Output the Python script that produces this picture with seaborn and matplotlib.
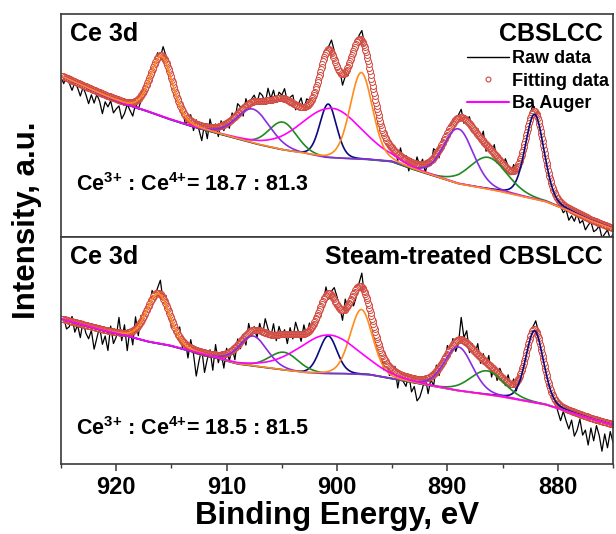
import numpy as np
import matplotlib
matplotlib.use("Agg")
import matplotlib.pyplot as plt
from matplotlib.lines import Line2D
from matplotlib.ticker import MultipleLocator
import seaborn as sns

# ---------------- data (intensities in arbitrary units) ----------------
raw_start = 875.0          # eV, first raw point
raw_step = 0.25            # eV spacing of the raw spectrum
fit_step = 0.06            # eV spacing of the fitted envelope points

# Shirley-type background knots
bg_energy = [875, 877, 879, 881, 883, 885, 887, 889, 891, 893, 895, 897, 899,
             901, 903, 905, 907, 909, 911, 913, 915, 917, 919, 921, 923, 925]
bg_top = [8, 16, 26, 35, 40, 45, 49, 53, 60, 67, 75, 77, 78,
          79, 83, 87, 92, 98, 104, 110, 117, 125, 132, 141, 151, 161]
bg_bottom = [39, 45, 52, 59, 63, 67, 70, 73, 77, 81, 85, 89, 90,
             90, 91, 94, 97, 100, 106, 112, 118, 122, 128, 133, 139, 145]

# fitted components: navy (v,u), green (v',u'), purple (v'',u''), orange (v''',u'''), Ba Auger
component_names = ["v/u", "v'/u'", "v''/u''", "v'''/u'''", "Ba Auger"]
top_centers = [[882.1, 900.8], [886.3, 904.9], [889.0, 907.6], [897.8, 915.9], [900.5]]
top_heights = [[85, 54], [32, 28], [55, 34], [87, 60], [50]]
top_fwhm = [[2.0, 1.8], [4.0, 3.0], [3.2, 3.6], [2.4, 2.4], [6.5]]

bottom_centers = [[882.1, 900.8], [886.4, 904.8], [889.0, 907.6], [897.8, 916.2], [900.8]]
bottom_heights = [[72, 38], [24, 18], [44, 30], [65, 50], [39]]
bottom_fwhm = [[1.9, 1.9], [3.6, 3.2], [3.0, 3.0], [2.4, 2.5], [6.5]]

# raw spectrum = fit + these residuals, 875 -> 925 eV
top_raw_resid = [
    -6, -12, -4, -9, -14, -3, -8, -11, -2, -7, -13, -5, -9, -1, -10, -6, -12, -3, -8, -4, -2,
    3, -4, 5, 1, -3, 6, 2, -2, 7, 4,
    -3, 2, -5, 4, -2, 6, -4, 3, 8, -3,
    5, -6, 9, -2, 4, -7, 10, -3, 6, 1,
    -4, 7, 2, -5, 8, 3, -6, 4, -2, 5,
    -3, 6, -8, 3, 9, -5, 2, -9, 5, -2,
    7, -6, 3, -10, 4, -3, 8, -7, 2, -4,
    5, -2, 6, -5, 3, 8, -4, 2, 9, 3,
    10, 4, -3, 6, -6, -9, -4, -11, 2, -3,
    8, 12, 3, -4, 6, -2, -9, 4, -6, 3,
    7, -3, 9, 2, -5, 8, 4, -2, 10, 3,
    6, -4, 9, 1, 12, -3, 5, 8, -2, 6,
    3, -5, 7, -8, 4, 10, -3, 6, -7, 2,
    -6, 5, -10, 3, -4, 8, -12, 2, -15, -5,
    4, -8, 6, -3, -9, 2, -6, 5, -2, 7,
    3, 6, 10, -2, 5, 2, -4, 6, -3, 2,
    -5, -10, -3, -14, -8, -2, -12, -18, -6, -10,
    -15, -4, -11, -7, -20, -9, -3, -13, -6, -16,
    -8, -2, -12, -5, -1, -10, -4, 3, -7, -2]
bottom_raw_resid = [
    -18, -8, -25, -12, -30, -15, -6, -22, -10, -28, -14, -20, -5, -17, -24, -9, -19, -12, -4, -15, -8,
    -3, 4, -6, 2, 7, -2, 5, 9, 3, 6,
    -4, 6, -7, 3, -9, 5, -3, 8, -5, 2,
    7, -8, 4, -10, 9, -3, 6, -6, 11, -2,
    5, -7, 12, 3, 22, -4, -10, 6, -3, 8,
    -5, 3, -8, 6, -12, -3, -16, 2, -9, -18,
    -22, -8, -14, 3, -10, -6, 2, -15, 5, -4,
    -9, 4, -12, -3, 6, -7, 9, -2, 5, -6,
    14, 3, -8, -12, 6, -4, 10, -10, 2, 8,
    12, 4, -6, 8, -3, 6, -9, 3, -5, 7,
    -4, 9, -7, 3, 12, -5, 6, -10, 4, -2,
    8, -6, 11, -3, 5, 14, -4, 7, -8, 3,
    -5, 9, -10, 4, -7, 6, -12, 3, -9, 5,
    -14, 2, -8, 10, -16, 4, -6, -20, 3, -10,
    -26, -5, 8, -12, 4, -7, 10, -3, 6, -9,
    4, 9, -3, 14, 5, -2, 8, -6, 3, -4,
    6, -10, 12, -14, 3, -18, 8, -8, 15, -5,
    -12, 5, -20, -6, -15, 2, -10, -22, -4, -13,
    -8, 3, -14, -2, -10, 5, -6, -9, 2, -3]

panel_titles = ["CBSLCC", "Steam-treated CBSLCC"]
ratio_ce3 = ["18.7", "18.5"]
ratio_ce4 = ["81.3", "81.5"]
legend_labels = ["Raw data", "Fitting data", "Ba Auger"]

# ---------------- style ----------------
sns.set_theme(style="ticks")
plt.rcParams["font.family"] = ["Liberation Sans", "DejaVu Sans"]
plt.rcParams["font.weight"] = "bold"
plt.rcParams["text.color"] = "black"
plt.rcParams["axes.labelcolor"] = "black"
plt.rcParams["xtick.color"] = "black"
plt.rcParams["mathtext.fontset"] = "custom"
plt.rcParams["mathtext.rm"] = "Liberation Sans:bold"
plt.rcParams["mathtext.bf"] = "Liberation Sans:bold"
plt.rcParams["mathtext.it"] = "Liberation Sans:bold"

comp_colors = ["#0a0a80", "#1f8a1f", "#8a2be2", "#ff8c1a", "#ff00ff"]
fit_color = "#d0463c"
spine_color = "#3a3a3a"
MIX = 0.2


def peaks(E, centers, heights, fwhms):
    out = np.zeros_like(E)
    for c, h, w in zip(centers, heights, fwhms):
        d = (E - c) / w
        out += h * ((1 - MIX) * np.exp(-4 * np.log(2) * d ** 2) + MIX / (1 + 4 * d ** 2))
    return out


fig = plt.figure(figsize=(6.16, 5.34), dpi=100)
gs = fig.add_gridspec(2, 1, height_ratios=[223, 227], hspace=0,
                      left=61 / 616, right=613 / 616, top=1 - 14 / 534, bottom=1 - 464 / 534)
axes = [fig.add_subplot(gs[0]), fig.add_subplot(gs[1])]

panels = [
    (bg_top, top_centers, top_heights, top_fwhm, top_raw_resid, 223, [0, 1, 2, 4, 3]),
    (bg_bottom, bottom_centers, bottom_heights, bottom_fwhm, bottom_raw_resid, 227, [0, 1, 2, 3, 4]),
]

for k, (ax, (bg_vals, cens, hts, fws, resid, ymax, order)) in enumerate(zip(axes, panels)):
    E_raw = raw_start + raw_step * np.arange(len(resid))
    E_fit = np.arange(875.0, 925.0 + 1e-9, fit_step)

    bg_fit = np.interp(E_fit, bg_energy, bg_vals)
    bg_raw = np.interp(E_raw, bg_energy, bg_vals)
    comp_curves = [bg_fit + peaks(E_fit, c, h, w) for c, h, w in zip(cens, hts, fws)]
    fit = bg_fit + sum(peaks(E_fit, c, h, w) for c, h, w in zip(cens, hts, fws))
    raw = bg_raw + sum(peaks(E_raw, c, h, w) for c, h, w in zip(cens, hts, fws)) + np.array(resid)

    sns.lineplot(x=E_raw, y=raw, ax=ax, color="black", lw=0.9, sort=False, estimator=None)
    sns.lineplot(x=E_fit, y=fit, ax=ax, color=fit_color, linestyle="", marker="o",
                 markersize=4.3, markerfacecolor="white", markeredgecolor=fit_color,
                 markeredgewidth=0.7, sort=False, estimator=None)
    for i in order:
        sns.lineplot(x=E_fit, y=comp_curves[i], ax=ax, color=comp_colors[i], lw=1.2,
                     sort=False, estimator=None)

    ax.set_xlim(925, 875)
    ax.set_ylim(0, ymax)
    ax.set_yticks([])
    ax.set_ylabel("")
    ax.set_xlabel("")
    for s in ax.spines.values():
        s.set_linewidth(1.2)
        s.set_color(spine_color)

    ax.text(0.016, 0.88, "Ce 3d", transform=ax.transAxes, ha="left", va="baseline",
            fontsize=18, fontweight="bold")
    ax.text(0.982, 0.88, panel_titles[k], transform=ax.transAxes, ha="right", va="baseline",
            fontsize=18, fontweight="bold")
    ax.text(0.028, 0.207 if k == 0 else 0.126,
            r"Ce$^{\text{3+}}$ : Ce$^{\text{4+}}$= " + ratio_ce3[k] + " : " + ratio_ce4[k],
            transform=ax.transAxes, ha="left", va="baseline", fontsize=15.5, fontweight="bold")

axes[0].tick_params(axis="x", which="both", bottom=False, labelbottom=False)
axes[1].xaxis.set_major_locator(MultipleLocator(10))
axes[1].xaxis.set_minor_locator(MultipleLocator(5))
axes[1].tick_params(axis="x", which="major", direction="out", length=5, width=1.1,
                    color=spine_color, labelcolor="black", labelsize=17, pad=4)
axes[1].tick_params(axis="x", which="minor", direction="out", length=3, width=1.0,
                    color=spine_color)
for lab in axes[1].get_xticklabels():
    lab.set_fontweight("bold")
axes[1].set_xlabel("Binding Energy, eV", fontsize=22.5, fontweight="bold", labelpad=1,
                   color="black")

fig.text(27 / 616, 1 - 220 / 534, "Intensity, a.u.", rotation=90, ha="center", va="center",
         fontsize=22.5, fontweight="bold", color="black")

handles = [
    Line2D([], [], color="black", lw=1.0),
    Line2D([], [], color=fit_color, marker="o", linestyle="", markersize=3.5,
           markerfacecolor="none", markeredgewidth=0.8),
    Line2D([], [], color="#ff00ff", lw=1.5),
]
axes[0].legend(handles, legend_labels, loc="upper left", bbox_to_anchor=(0.7355, 0.838),
               frameon=False, borderpad=0, borderaxespad=0, handlelength=2.3,
               handletextpad=0.2, labelspacing=0.3, prop={"size": 13, "weight": "bold"})

fig.savefig("out.png", dpi=100)
